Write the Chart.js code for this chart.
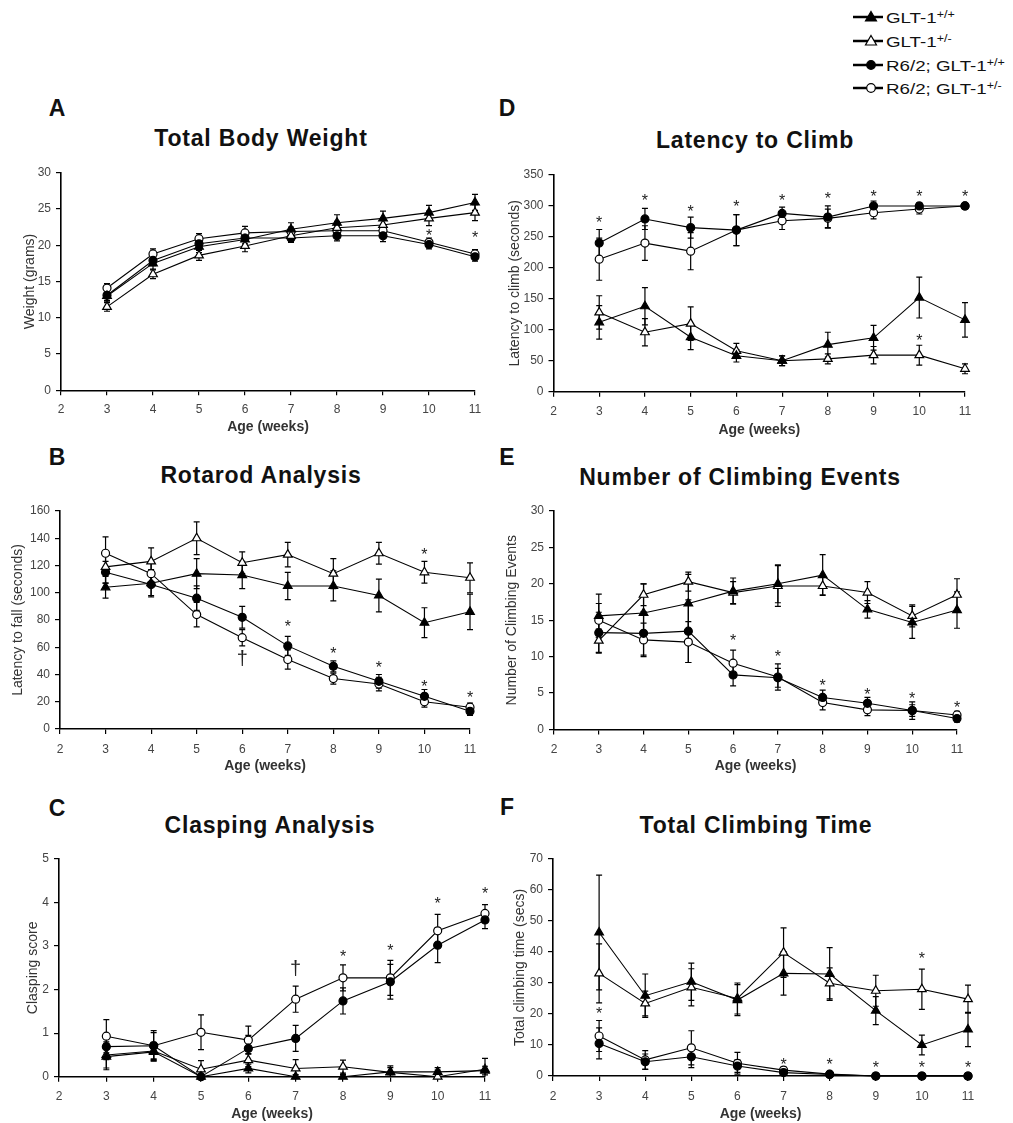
<!DOCTYPE html>
<html>
<head>
<meta charset="utf-8">
<script src="https://cdn.jsdelivr.net/npm/chart.js@4.4.1/dist/chart.umd.min.js"></script>
<style>
  body { margin: 0; background: #fff; }
  #wrap { position: relative; width: 1013px; height: 1123px; overflow: hidden; font-family: "Liberation Sans", Arial, sans-serif; color: #111; }
  canvas { position: absolute; }
  .ttl { position: absolute; font-weight: bold; font-size: 23px; letter-spacing: 0.8px; transform: translate(-50%, -50%); white-space: nowrap; }
  .let { position: absolute; font-weight: bold; font-size: 23px; transform: translate(-50%, -50%); }
  .leg { position: absolute; left: 852px; height: 16px; display: flex; align-items: center; font-size: 15px; white-space: nowrap; }
  .leg span { display: inline-block; transform: scaleX(1.25); transform-origin: left center; margin-left: 2px; }
  .leg sup { font-size: 10px; vertical-align: 5px; line-height: 0; }
</style>
</head>
<body>
<div id="wrap">
  <div class="leg" style="top:9px"><svg width="32" height="16"><line x1="1" y1="8" x2="31" y2="8" stroke="#000" stroke-width="2.5"/><polygon points="19,2.5 24.5,12 13.5,12" fill="#000" stroke="#000" stroke-width="1.2"/></svg><span>GLT-1<sup>+/+</sup></span></div>
  <div class="leg" style="top:33px"><svg width="32" height="16"><line x1="1" y1="8" x2="31" y2="8" stroke="#000" stroke-width="2.5"/><polygon points="19,2.5 24.5,12 13.5,12" fill="#fff" stroke="#000" stroke-width="1.2"/></svg><span>GLT-1<sup>+/-</sup></span></div>
  <div class="leg" style="top:57px"><svg width="32" height="16"><line x1="1" y1="8" x2="31" y2="8" stroke="#000" stroke-width="2.5"/><circle cx="19" cy="8" r="4.3" fill="#000" stroke="#000" stroke-width="1.2"/></svg><span>R6/2; GLT-1<sup>+/+</sup></span></div>
  <div class="leg" style="top:80px"><svg width="32" height="16"><line x1="1" y1="8" x2="31" y2="8" stroke="#000" stroke-width="2.5"/><circle cx="19" cy="8" r="4.3" fill="#fff" stroke="#000" stroke-width="1.2"/></svg><span>R6/2; GLT-1<sup>+/-</sup></span></div>

  <div class="let" style="left:57px;top:108px">A</div>
  <div class="let" style="left:57px;top:457px">B</div>
  <div class="let" style="left:57px;top:808px">C</div>
  <div class="let" style="left:507px;top:108px">D</div>
  <div class="let" style="left:507px;top:457px">E</div>
  <div class="let" style="left:507px;top:807px">F</div>

  <div class="ttl" style="left:261px;top:138px">Total Body Weight</div>
  <div class="ttl" style="left:261px;top:475px">Rotarod Analysis</div>
  <div class="ttl" style="left:270px;top:825px">Clasping Analysis</div>
  <div class="ttl" style="left:755px;top:140px">Latency to Climb</div>
  <div class="ttl" style="left:740px;top:477px">Number of Climbing Events</div>
  <div class="ttl" style="left:756px;top:825px">Total Climbing Time</div>

  <canvas id="weightChart"></canvas>
  <canvas id="rotarodChart"></canvas>
  <canvas id="claspChart"></canvas>
  <canvas id="latencyChart"></canvas>
  <canvas id="eventsChart"></canvas>
  <canvas id="climbTimeChart"></canvas>
</div>
<script>
Chart.defaults.font.family = '"Liberation Sans", Arial, sans-serif';

const weeks = [3, 4, 5, 6, 7, 8, 9, 10, 11];

// A - total body weight (grams)
const weightAxis = [0, 30, 5];
const weightWt = [13.0, 17.5, 19.8, 20.8, 22.2, 23.1, 23.7, 24.5, 25.9];
const weightHet = [11.5, 16.0, 18.6, 19.9, 21.3, 22.4, 22.8, 23.7, 24.5];
const weightR62Wt = [13.1, 17.9, 20.2, 21.0, 21.0, 21.3, 21.3, 20.1, 18.4];
const weightR62Het = [14.1, 18.8, 20.9, 21.7, 21.9, 22.0, 22.0, 20.4, 18.8];
const weightWtErr = [0.8, 0.8, 0.8, 0.9, 0.9, 1.1, 1.0, 1.0, 1.1];
const weightHetErr = [0.6, 0.6, 0.7, 0.8, 0.8, 0.9, 0.9, 1.0, 1.1];
const weightR62WtErr = [0.7, 0.7, 0.8, 0.8, 0.6, 0.7, 0.8, 0.6, 0.6];
const weightR62HetErr = [0.6, 0.7, 0.7, 0.9, 0.6, 0.7, 0.7, 0.6, 0.6];
const weightStars = [[10, 21.8], [11, 21.6]];

// B - rotarod latency to fall (seconds)
const rotarodAxis = [0, 160, 20];
const rotarodWt = [104, 107, 114, 113, 105, 105, 98, 78, 86];
const rotarodHet = [119, 123, 140, 122, 128, 114, 129, 115, 111];
const rotarodR62Wt = [115, 106, 96, 82, 61, 46, 35, 24, 13];
const rotarodR62Het = [129, 114, 84, 67, 51, 37, 33, 20, 16];
const rotarodWtErr = [8, 10, 11, 10, 10, 11, 12, 11, 13];
const rotarodHetErr = [12, 10, 12, 8, 9, 11, 8, 8, 11];
const rotarodR62WtErr = [8, 8, 9, 8, 7, 4, 5, 5, 3];
const rotarodR62HetErr = [12, 8, 9, 6, 7, 4, 5, 4, 3];
const rotarodStars = [[7, 78], [8, 58], [9, 48], [10, 131], [10, 34], [11, 26]];
const rotarodDaggers = [[6, 51]];

// C - clasping score
const claspAxis = [0, 5, 1];
const claspWt = [0.46, 0.57, 0, 0.19, 0, 0, 0.11, 0.11, 0.14];
const claspHet = [0.5, 0.59, 0.17, 0.38, 0.19, 0.23, 0.1, 0, 0.17];
const claspR62Wt = [0.69, 0.71, 0, 0.65, 0.88, 1.74, 2.18, 3.02, 3.6];
const claspR62Het = [0.93, 0.71, 1.02, 0.84, 1.78, 2.27, 2.27, 3.35, 3.75];
const claspWtErr = [0.3, 0.2, 0.05, 0.1, 0.05, 0.05, 0.1, 0.1, 0.1];
const claspHetErr = [0.3, 0.2, 0.2, 0.15, 0.2, 0.15, 0.15, 0.15, 0.25];
const claspR62WtErr = [0.3, 0.3, 0.05, 0.3, 0.3, 0.3, 0.4, 0.4, 0.2];
const claspR62HetErr = [0.38, 0.35, 0.4, 0.32, 0.3, 0.3, 0.4, 0.38, 0.2];
const claspStars = [[8, 2.83], [9, 2.99], [10, 4.06], [11, 4.29]];
const claspDaggers = [[7, 2.45]];

// D - latency to climb (seconds)
const latencyAxis = [0, 350, 50];
const latencyWt = [112, 138, 88, 58, 50, 76, 87, 152, 116];
const latencyHet = [128, 96, 110, 66, 50, 53, 59, 59, 37];
const latencyR62Wt = [240, 279, 265, 261, 288, 282, 300, 300, 300];
const latencyR62Het = [214, 240, 227, 261, 276, 280, 289, 295, 300];
const latencyWtErr = [27, 30, 20, 10, 8, 20, 20, 33, 28];
const latencyHetErr = [27, 22, 27, 12, 8, 8, 14, 16, 8];
const latencyR62WtErr = [22, 17, 17, 25, 10, 18, 8, 5, 0];
const latencyR62HetErr = [34, 28, 30, 25, 14, 15, 10, 8, 0];
const latencyStars = [[3, 279], [4, 314], [5, 297], [6, 305], [7, 314], [8, 318], [9, 321], [10, 321], [11, 321], [10, 88]];

// E - number of climbing events
const eventsAxis = [0, 30, 5];
const eventsWt = [15.6, 16.0, 17.3, 19.0, 20.0, 21.2, 16.5, 14.7, 16.4];
const eventsHet = [12.2, 18.5, 20.3, 18.8, 19.7, 19.7, 18.8, 15.6, 18.5];
const eventsR62Wt = [13.3, 13.2, 13.5, 7.5, 7.1, 4.4, 3.6, 2.6, 1.5];
const eventsR62Het = [15.0, 12.3, 12.0, 9.1, 7.2, 3.7, 2.7, 2.6, 2.0];
const eventsWtErr = [3.0, 4.0, 4.0, 1.8, 2.6, 2.8, 1.2, 2.2, 2.5];
const eventsHetErr = [1.6, 1.5, 1.3, 1.5, 2.8, 1.2, 1.5, 1.5, 2.2];
const eventsR62WtErr = [2.8, 3.0, 4.3, 1.5, 1.3, 1.0, 0.8, 0.8, 0.5];
const eventsR62HetErr = [2.3, 2.3, 2.8, 1.8, 1.8, 1.0, 0.8, 1.2, 0.5];
const eventsStars = [[6, 12.7], [7, 10.5], [8, 6.5], [9, 5.3], [10, 4.7], [11, 3.5]];

// F - total climbing time (secs)
const climbAxis = [0, 70, 10];
const climbWt = [46.3, 25.9, 30.4, 24.5, 33.1, 32.9, 21.1, 10.0, 15.0];
const climbHet = [33.1, 23.4, 28.6, 25.0, 39.8, 29.9, 27.5, 28.0, 24.8];
const climbR62Wt = [10.5, 4.6, 6.2, 3.2, 1.1, 0.5, 0, 0, 0];
const climbR62Het = [12.9, 5.2, 9.1, 4.1, 1.9, 0.6, 0, 0, 0];
const climbWtErr = [18.5, 7, 6, 5, 7, 8.5, 4.5, 3.2, 5.5];
const climbHetErr = [9.5, 4, 6, 5, 8, 5, 5, 6.5, 4.5];
const climbR62WtErr = [5, 2.5, 3.5, 2, 0.5, 0.3, 0, 0, 0];
const climbR62HetErr = [5, 3, 5.5, 3.5, 1, 0.5, 0, 0, 0];
const climbStars = [[3, 21.3], [7, 5.0], [8, 4.8], [9, 3.8], [10, 3.8], [10, 39], [11, 3.8]];

// marker look of the four genotypes
const genotypes = [
    { label: 'GLT-1+/+', shape: 'triangle', r: 5, fill: '#000' },
    { label: 'GLT-1+/-', shape: 'triangle', r: 5, fill: '#fff' },
    { label: 'R6/2; GLT-1+/+', shape: 'circle', r: 4, fill: '#000' },
    { label: 'R6/2; GLT-1+/-', shape: 'circle', r: 4, fill: '#fff' }
];

// vertical SEM bars with caps, under the markers
const errorBars = {
    id: 'errorBars',
    beforeDatasetsDraw(chart) {
        const { ctx, scales: { x, y } } = chart;
        ctx.save();
        ctx.strokeStyle = '#000';
        ctx.lineWidth = 1.2;
        chart.data.datasets.forEach(ds => {
            ds.data.forEach((p, i) => {
                const e = ds.errors[i];
                if (!e) return;
                const px = x.getPixelForValue(p.x);
                const lo = Math.max(p.y - e, y.min);
                const top = y.getPixelForValue(p.y + e);
                const bot = y.getPixelForValue(lo);
                ctx.beginPath();
                ctx.moveTo(px, top); ctx.lineTo(px, bot);
                ctx.moveTo(px - 3, top); ctx.lineTo(px + 3, top);
                if (lo > y.min) { ctx.moveTo(px - 3, bot); ctx.lineTo(px + 3, bot); }
                ctx.stroke();
            });
        });
        ctx.restore();
    }
};

// significance symbols
const marks = {
    id: 'marks',
    afterDatasetsDraw(chart, args, opts) {
        const { ctx, scales: { x, y } } = chart;
        ctx.save();
        ctx.fillStyle = '#222';
        ctx.textAlign = 'center';
        ctx.textBaseline = 'alphabetic';
        ctx.font = '16px "Liberation Sans", Arial, sans-serif';
        (opts.stars || []).forEach(s => ctx.fillText('*', x.getPixelForValue(s[0]), y.getPixelForValue(s[1]) + 9));
        ctx.font = '20px "Liberation Sans", Arial, sans-serif';
        (opts.daggers || []).forEach(s => ctx.fillText('\u2020', x.getPixelForValue(s[0]), y.getPixelForValue(s[1]) + 5));
        ctx.restore();
    }
};

// f: where the plot box sits on the page (L,R,T,B), tick label row, axis title row, y title column
function drawPanel(id, f, yTitle, axis, values, errors, stars, daggers) {
    const canvas = document.getElementById(id);
    const cx = f.left;
    const cy = Math.floor(f.T - 16);
    const cw = f.left ? 513 : 500;
    const ch = Math.min(1123, f.titleY + 10) - cy;
    canvas.width = cw;
    canvas.height = ch;
    canvas.style.left = cx + 'px';
    canvas.style.top = cy + 'px';
    const tickLen = 5;

    return new Chart(canvas, {
        type: 'line',
        data: {
            datasets: values.map((vals, k) => ({
                label: genotypes[k].label,
                data: weeks.map((w, i) => ({ x: w, y: vals[i] })),
                errors: errors[k],
                borderColor: '#000',
                borderWidth: 1.1,
                pointStyle: genotypes[k].shape,
                pointRadius: genotypes[k].r,
                pointBackgroundColor: genotypes[k].fill,
                pointBorderColor: '#000',
                pointBorderWidth: 1.2,
                tension: 0,
                clip: false
            }))
        },
        options: {
            responsive: false,
            animation: false,
            events: [],
            layout: { padding: { left: 0, top: f.T - cy, right: cx + cw - f.R, bottom: 0 } },
            plugins: {
                legend: { display: false },
                tooltip: { enabled: false },
                marks: { stars: stars, daggers: daggers }
            },
            scales: {
                x: {
                    type: 'linear',
                    min: 2,
                    max: 11,
                    ticks: { stepSize: 1, padding: f.tickY - f.B - tickLen - 7.2, color: '#444', font: { size: 12 } },
                    grid: { drawOnChartArea: false, drawTicks: true, tickLength: tickLen, color: '#000', lineWidth: 1.2 },
                    border: { color: '#000', width: 1.6 },
                    title: {
                        display: true,
                        text: 'Age (weeks)',
                        color: '#333',
                        font: { size: 14, weight: 'bold' },
                        padding: { top: 0, bottom: cy + ch - f.titleY - 8.4 }
                    },
                    afterFit: sc => { sc.height = cy + ch - f.B; }
                },
                y: {
                    min: axis[0],
                    max: axis[1],
                    ticks: { stepSize: axis[2], padding: 5, color: '#444', font: { size: 12 } },
                    grid: { drawOnChartArea: false, drawTicks: true, tickLength: tickLen, color: '#000', lineWidth: 1.2 },
                    border: { color: '#000', width: 1.6 },
                    title: {
                        display: true,
                        text: yTitle,
                        color: '#333',
                        font: { size: 14 },
                        padding: { top: f.yTitleX - cx - 8.4, bottom: 0 }
                    },
                    afterFit: sc => { sc.width = f.L - cx; }
                }
            }
        },
        plugins: [errorBars, marks]
    });
}

drawPanel('weightChart',
    { left: 0, L: 61, R: 475, T: 172.7, B: 390.3, tickY: 410, titleY: 427, yTitleX: 30 },
    'Weight (grams)', weightAxis,
    [weightWt, weightHet, weightR62Wt, weightR62Het],
    [weightWtErr, weightHetErr, weightR62WtErr, weightR62HetErr],
    weightStars, []);

drawPanel('rotarodChart',
    { left: 0, L: 60, R: 470, T: 511, B: 729, tickY: 750, titleY: 766, yTitleX: 18.3 },
    'Latency to fall (seconds)', rotarodAxis,
    [rotarodWt, rotarodHet, rotarodR62Wt, rotarodR62Het],
    [rotarodWtErr, rotarodHetErr, rotarodR62WtErr, rotarodR62HetErr],
    rotarodStars, rotarodDaggers);

drawPanel('claspChart',
    { left: 0, L: 59, R: 485, T: 859, B: 1076.7, tickY: 1096.7, titleY: 1114, yTitleX: 33.3 },
    'Clasping score', claspAxis,
    [claspWt, claspHet, claspR62Wt, claspR62Het],
    [claspWtErr, claspHetErr, claspR62WtErr, claspR62HetErr],
    claspStars, claspDaggers);

drawPanel('latencyChart',
    { left: 500, L: 553.5, R: 965, T: 175, B: 391.7, tickY: 412, titleY: 430, yTitleX: 515 },
    'Latency to climb (seconds)', latencyAxis,
    [latencyWt, latencyHet, latencyR62Wt, latencyR62Het],
    [latencyWtErr, latencyHetErr, latencyR62WtErr, latencyR62HetErr],
    latencyStars, []);

drawPanel('eventsChart',
    { left: 500, L: 554, R: 957, T: 511, B: 729.5, tickY: 750, titleY: 766, yTitleX: 511.7 },
    'Number of Climbing Events', eventsAxis,
    [eventsWt, eventsHet, eventsR62Wt, eventsR62Het],
    [eventsWtErr, eventsHetErr, eventsR62WtErr, eventsR62HetErr],
    eventsStars, []);

drawPanel('climbTimeChart',
    { left: 500, L: 553, R: 968, T: 859, B: 1076, tickY: 1096.7, titleY: 1114, yTitleX: 520 },
    'Total climbing time (secs)', climbAxis,
    [climbWt, climbHet, climbR62Wt, climbR62Het],
    [climbWtErr, climbHetErr, climbR62WtErr, climbR62HetErr],
    climbStars, []);
</script>
</body>
</html>
